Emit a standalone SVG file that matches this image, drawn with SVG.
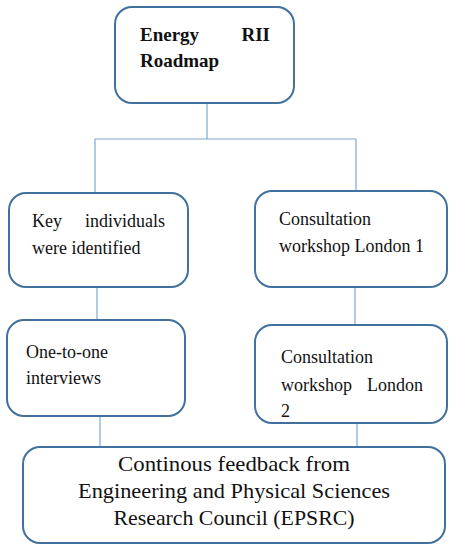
<svg xmlns="http://www.w3.org/2000/svg" width="452" height="550" viewBox="0 0 452 550">
<style>
.box{fill:#fff;stroke:#41719c;stroke-width:2}
.t{font-family:"Liberation Serif","Times New Roman",serif;font-size:18px;fill:#111}
.b{font-weight:bold;font-size:19px}
.big{font-size:21px}
.c{fill:none;stroke:#7fa8d6;stroke-width:1.2}
</style>
<rect width="452" height="550" fill="#fff"/>
<g id="connectors">
<path class="c" d="M207 103V139M95 139H356M95 139V193M356 139V191"/>
<path class="c" d="M97 287V320M355 287V325"/>
<path class="c" d="M100 416V447M357 423V447"/>
</g>
<g id="n-roadmap">
<rect class="box" x="115" y="7" width="179" height="96" rx="17"/>
<text class="t b" x="140" y="41">Energy</text>
<text class="t b" x="270" y="41" text-anchor="end">RII</text>
<text class="t b" x="140" y="67">Roadmap</text>
</g>
<g id="n-key">
<rect class="box" x="9" y="193" width="179" height="94" rx="17"/>
<text class="t" x="32" y="227">Key</text>
<text class="t" x="165" y="227" text-anchor="end">individuals</text>
<text class="t" x="32" y="254">were identified</text>
</g>
<g id="n-consult1">
<rect class="box" x="255" y="191" width="192" height="96" rx="17"/>
<text class="t" x="279" y="225">Consultation</text>
<text class="t" x="279" y="252">workshop London 1</text>
</g>
<g id="n-interviews">
<rect class="box" x="7" y="320" width="178" height="96" rx="17"/>
<text class="t" x="26" y="358">One-to-one</text>
<text class="t" x="26" y="384">interviews</text>
</g>
<g id="n-consult2">
<rect class="box" x="255" y="325" width="192" height="98" rx="17"/>
<text class="t" x="281" y="363">Consultation</text>
<text class="t" x="281" y="391">workshop</text>
<text class="t" x="423" y="391" text-anchor="end">London</text>
<text class="t" x="281" y="417">2</text>
</g>
<g id="n-epsrc">
<rect class="box" x="23" y="447" width="422" height="96" rx="17"/>
<text class="t big" x="234" y="471" text-anchor="middle" textLength="232" lengthAdjust="spacingAndGlyphs">Continous feedback from</text>
<text class="t big" x="234" y="498" text-anchor="middle" textLength="312" lengthAdjust="spacingAndGlyphs">Engineering and Physical Sciences</text>
<text class="t big" x="234" y="525" text-anchor="middle" textLength="241" lengthAdjust="spacingAndGlyphs">Research Council (EPSRC)</text>
</g>
</svg>
